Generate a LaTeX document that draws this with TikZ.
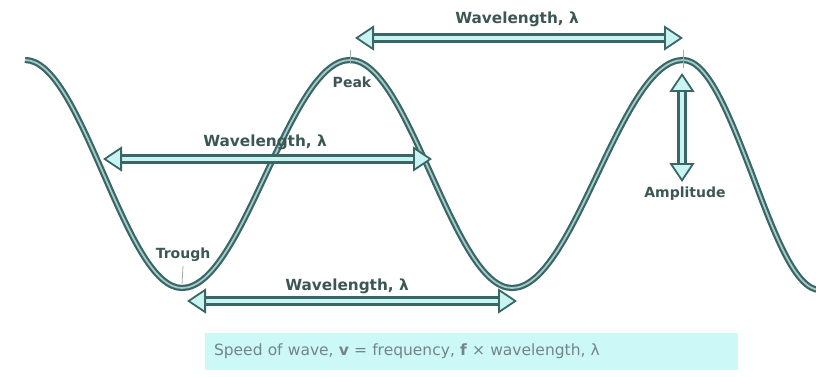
\documentclass[tikz,border=0pt]{standalone}
\usepackage{fontspec}
\setmainfont{DejaVu Sans}
\usetikzlibrary{arrows.meta}

\definecolor{wavedark}{HTML}{3B6666}
\definecolor{wavelight}{HTML}{A3CBC7}
\definecolor{arrowfill}{HTML}{C8F4F2}
\definecolor{labelgray}{HTML}{3C5656}
\definecolor{capfill}{HTML}{CCF8F8}
\definecolor{captext}{HTML}{738585}
\definecolor{tickgray}{HTML}{9AB0AE}

\tikzset{
  wave/.style={draw=wavedark, line width=2.2pt, double=wavelight, double distance=1.8pt},
  wltip/.tip={Triangle[fill=arrowfill, length=19pt, width=25pt, line width=1.8pt]},
  wlarrow/.style={draw=wavedark, line width=2.4pt, double=arrowfill, double distance=4.5pt, wltip-wltip},
  lbl/.style={text=labelgray, font=\bfseries\fontsize{14}{16}\selectfont, inner sep=0pt},
  wllbl/.style={lbl, font=\bfseries\fontsize{15.3}{17}\selectfont},
  tickline/.style={draw=tickgray, line width=0.8pt},
  capbox/.style={fill=capfill, minimum width=533pt, minimum height=37pt, text width=515pt,
    align=left, text=captext, font=\fontsize{15.5}{17}\selectfont},
}

\begin{document}
\begin{tikzpicture}[x=1pt, y=-1pt]
	\useasboundingbox (0,0) rectangle (816,377);
	% crests and troughs
	\coordinate (peakA) at (350,60);
	\coordinate (peakB) at (683,60);
	\coordinate (troughA) at (182,288);
	\coordinate (troughB) at (512,288);
	% the wave
	\draw[wave] (25,60) cos (103.5,174) sin (troughA) cos (266,174) sin (peakA)
		cos (431,174) sin (troughB) cos (597.5,174) sin (peakB) cos (752,174) sin (820,290);
	% marks
	\draw[tickline] ([yshift=10pt]peakA) -- ([yshift=-4pt]peakA);
	\draw[tickline] ([yshift=10pt]peakB) -- ([yshift=-8pt]peakB);
	\node[lbl] (peakLbl) at (352,82) {Peak};
	\node[lbl] (troughLbl) at (183,255) {Trough};
	\draw[tickline] ([yshift=-4pt]troughLbl.south) -- ([yshift=4pt]troughA);
	% wavelength arrows
	\coordinate (topL) at (355,38);
	\coordinate (topR) at (683,38);
	\draw[wlarrow] (topL) -- (topR);
	\node[wllbl] (wlTop) at (517,19) {Wavelength, λ};
	\coordinate (midL) at (103,159);
	\coordinate (midR) at (432,159);
	\draw[wlarrow] (midL) -- (midR);
	\node[wllbl] (wlMid) at (265,142) {Wavelength, λ};
	\coordinate (botL) at (187,301);
	\coordinate (botR) at (517,301);
	\draw[wlarrow] (botL) -- (botR);
	\node[wllbl] (wlBot) at (347,286) {Wavelength, λ};
	% amplitude
	\coordinate (ampTop) at (682,73);
	\coordinate (ampBot) at (682,182);
	\draw[wlarrow] (ampTop) -- (ampBot);
	\node[lbl] (ampLbl) at (685,194) {Amplitude};
	% formula
	\node[capbox] (formula) at (471.5,351.5) {Speed of wave, \textbf{v} = frequency, \textbf{f} × wavelength, λ};
\end{tikzpicture}
\end{document}
